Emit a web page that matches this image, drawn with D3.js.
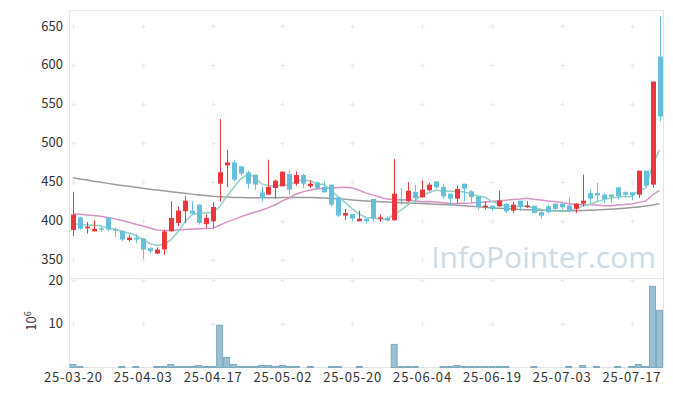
<!DOCTYPE html>
<html>
<head>
<meta charset="utf-8">
<script src="https://cdn.jsdelivr.net/npm/d3@7/dist/d3.min.js"></script>
<style>
  html, body { margin: 0; padding: 0; background: #fff; }
  svg { display: block; font-family: "Noto Sans CJK KR", "Noto Sans", sans-serif; }
</style>
</head>
<body>
<svg id="chart" width="673" height="396"></svg>
<script>
// trading days (yy-mm-dd)
const dates = [
  "25-03-20","25-03-21","25-03-24","25-03-25","25-03-26","25-03-27","25-03-28","25-03-31","25-04-01","25-04-02",
  "25-04-03","25-04-04","25-04-07","25-04-08","25-04-09","25-04-10","25-04-11","25-04-14","25-04-15","25-04-16",
  "25-04-17","25-04-18","25-04-21","25-04-22","25-04-23","25-04-24","25-04-25","25-04-28","25-04-29","25-04-30",
  "25-05-02","25-05-07","25-05-08","25-05-09","25-05-12","25-05-13","25-05-14","25-05-15","25-05-16","25-05-19",
  "25-05-20","25-05-21","25-05-22","25-05-23","25-05-26","25-05-27","25-05-28","25-05-29","25-05-30","25-06-02",
  "25-06-04","25-06-05","25-06-09","25-06-10","25-06-11","25-06-12","25-06-13","25-06-16","25-06-17","25-06-18",
  "25-06-19","25-06-20","25-06-23","25-06-24","25-06-25","25-06-26","25-06-27","25-06-30","25-07-01","25-07-02",
  "25-07-03","25-07-04","25-07-07","25-07-08","25-07-09","25-07-10","25-07-11","25-07-14","25-07-15","25-07-16",
  "25-07-17","25-07-18","25-07-21","25-07-22","25-07-23"
];

const open = [
  388, 404, 390, 386.3, 390, 404, 389, 387, 375, 378,
  377, 364.5, 357.7, 363, 386.3, 397, 412, 412.8, 420.5, 395.7,
  399.2, 447.4, 470.9, 474.8, 469.7, 462, 459, 436.3, 433.3, 441.9,
  444, 459.8, 447.4, 458.5, 444, 449.1, 443.2, 446.2, 430, 406.4,
  408.5, 399.1, 402.5, 427.8, 402.5, 403.4, 400.4, 427.5, 424.8, 436.7,
  429.9, 438.9, 450.4, 443.1, 434.6, 428.2, 447.4, 437.6, 431.2, 417.1,
  419.2, 418.4, 421.3, 412.8, 425.6, 417.1, 419.2, 410.7, 418.4, 421.8,
  421.8, 419.2, 415.4, 421.8, 435.4, 435.4, 433.3, 433.3, 442.7, 436.3,
  436.3, 433.3, 464.1, 446.2, 610.7
];
const high = [
  437, 405, 398, 400.4, 394, 404.5, 391, 387.5, 381.6, 382.5,
  377.5, 366, 365.4, 388.5, 424.8, 418.4, 431.2, 424.8, 420.5, 407.7,
  423.5, 530.3, 491, 478.2, 469.7, 464.5, 459, 444, 478.2, 452.6,
  463, 464.1, 463.2, 459.8, 451.7, 450.4, 450.4, 446.2, 430, 415,
  408.5, 412.8, 402.5, 427.8, 407.7, 405.5, 479, 441.9, 449.5, 446.1,
  451.3, 448.3, 450.4, 447, 434.6, 444.8, 447.4, 438.9, 431.2, 424.8,
  419.2, 438.4, 422.6, 423.9, 425.6, 424.8, 419.2, 413.2, 420.5, 421.8,
  421.8, 429.9, 422.6, 459, 439.7, 448.3, 435.4, 433.3, 442.7, 437.6,
  436.3, 464.1, 464.1, 578.6, 662
];
const low = [
  380, 388, 383.3, 386, 385.5, 386, 379, 373.5, 373, 371,
  351, 358.5, 356.8, 356, 386, 392.7, 397, 407.7, 394.8, 390.6,
  390.6, 424.8, 443.2, 450.4, 458, 441, 439.7, 424.8, 433, 427.8,
  444, 433.3, 444.9, 441.9, 441.9, 439.7, 435.5, 418.4, 404.7, 400.4,
  399.1, 399, 396.1, 399.1, 398.3, 399, 400, 420.5, 424, 422.6,
  429, 437.6, 441, 427.8, 418.4, 421.8, 424.8, 422.6, 414.1, 414.1,
  412, 417.5, 409.8, 409.8, 412.8, 416.2, 409, 402.5, 409, 412,
  414.9, 410.7, 409.8, 418.4, 422.6, 424.8, 422.6, 422.6, 426.9, 429,
  426.1, 429, 444, 442.3, 527.3
];
const close = [
  407.7, 389.7, 392.3, 389.3, 388.5, 388.5, 388, 375.6, 378.2, 375.6,
  362.8, 360.7, 362.8, 386, 403.4, 412.8, 425.6, 409, 397, 403.4,
  417.5, 462, 474.8, 452.6, 460.3, 447.4, 446.2, 429.1, 443.2, 451.3,
  462.8, 439.7, 458.5, 447.4, 447.4, 441.9, 436.3, 420.5, 406.4, 409.8,
  402.6, 402.5, 399.1, 402.5, 404.2, 400, 434.6, 426, 438.4, 429,
  439.7, 446.1, 442.7, 431.2, 428.2, 440.6, 441, 430.3, 418.4, 419.2,
  414.9, 425.6, 411.9, 420.5, 417.5, 419.2, 409.8, 406.4, 410.7, 414.9,
  417.1, 411.9, 421.8, 425.6, 428.2, 432.5, 427.8, 430.3, 431.2, 433.3,
  432.5, 464.1, 444.8, 578.6, 533.7
];
// volume in millions of shares
const volume = [
  0.7, 0.25, 0.05, 0.05, 0.05, 0.05, 0.05, 0.23, 0.05, 0.23,
  0.05, 0.05, 0.23, 0.23, 0.7, 0.23, 0.23, 0.23, 0.46, 0.23,
  0.23, 9.7, 2.3, 0.7, 0.23, 0.23, 0.23, 0.46, 0.46, 0.23,
  0.46, 0.23, 0.23, 0.05, 0.23, 0.05, 0.05, 0.23, 0.23, 0.05,
  0.05, 0.23, 0.05, 0.05, 0.05, 0.05, 5.3, 0.23, 0.23, 0.23,
  0.05, 0.05, 0.05, 0.23, 0.23, 0.46, 0.23, 0.23, 0.23, 0.23,
  0.23, 0.23, 0.23, 0.05, 0.05, 0.05, 0.23, 0.05, 0.05, 0.05,
  0.05, 0.23, 0.05, 0.46, 0.05, 0.23, 0.05, 0.05, 0.23, 0.05,
  0.23, 0.69, 0.23, 18.6, 13.1
];
// moving averages
const ma5 = [
  396, 395, 394.5, 394, 393.5, 389.7, 389.3, 386, 383.8, 381.2,
  376, 370.6, 368, 369.6, 375.1, 385.1, 398.1, 407.4, 409.6, 409.6,
  410.5, 417.8, 430.9, 442.1, 453.4, 459.4, 456.3, 447.1, 445.2, 443.4,
  446.5, 445.2, 451.1, 451.9, 451.2, 447, 446.3, 438.7, 430.5, 423,
  415.1, 408.4, 404.1, 403.3, 402.2, 401.7, 408.1, 413.5, 420.6, 425.6,
  433.5, 435.8, 439.2, 437.7, 437.6, 437.8, 436.7, 434.3, 431.7, 429.9,
  424.8, 421.7, 418, 418.4, 418.1, 418.9, 415.8, 414.7, 412.7, 412.2,
  411.8, 412.2, 415.3, 418.3, 420.9, 424, 427.2, 428.9, 430, 431,
  431, 438.3, 441.2, 470.7, 490.7
];
const ma20 = [
  408.6, 408, 407.3, 406.5, 405.6, 404, 402.2, 400, 397.8, 395.4,
  393, 390.5, 388, 387.2, 387.3, 388, 388.6, 389, 389.4, 389.8,
  390.3, 394, 398.1, 401.2, 404.8, 407.8, 410.7, 413.4, 416.6, 420.4,
  425.4, 429.3, 434.1, 437.2, 439.4, 440.9, 441.4, 442, 442.4, 442.8,
  442, 439, 435.3, 432.7, 429.9, 427.6, 427, 426.8, 426.6, 425.5,
  424.3, 424.6, 423.9, 423, 422.1, 422, 422.3, 422.7, 423.3, 423.8,
  424.4, 425.6, 426.2, 427.1, 427.8, 428.8, 427.5, 426.5, 425.1, 424.4,
  423.3, 421.6, 420.6, 420.3, 420.3, 419.9, 419.2, 419.2, 419.9, 420.6,
  421.4, 423.4, 425, 432.9, 438.7
];
const ma60 = [
  455, 453.5, 452, 450.6, 449.2, 447.8, 446.5, 445.2, 444, 442.8,
  441.6, 440.4, 439.3, 438.2, 437.1, 436, 435, 434, 433, 432.1,
  431.3, 430.7, 430.2, 429.8, 429.6, 429.5, 429.5, 429.5, 429.5, 429.5,
  429.6, 429.7, 429.8, 429.8, 429.7, 429.4, 429, 428.5, 428, 427.3,
  426.5, 425.8, 425.2, 424.7, 424.2, 423.8, 423.4, 423, 422.6, 422.2,
  421.8, 421.4, 421, 420.6, 420.2, 419.8, 419.2, 418.5, 417.8, 417,
  416.3, 415.7, 415.2, 414.8, 414.4, 414, 413.6, 413.3, 413, 412.8,
  412.7, 412.7, 412.8, 413, 413.3, 413.7, 414.1, 414.6, 415.2, 415.9,
  416.7, 417.6, 418.6, 420, 421.8
];

const priceTicks = [350, 400, 450, 500, 550, 600, 650];
const volumeTicks = [10, 20];
const labelDates = ["25-03-20","25-04-03","25-04-17","25-05-02","25-05-20","25-06-04","25-06-19","25-07-03","25-07-17"];

const upColor = "#e9373c";
const downColor = "#67c0d9";

const svg = d3.select("#chart");
const left = 69.5, right = 663;

const x = d3.scaleBand().domain(dates).range([left, right]).padding(0);
const cx = d => x(d) + x.bandwidth() / 2;
const y = d3.scaleLinear().domain([335.9, 670.5]).range([270.5, 10]);
const yv = d3.scaleLinear().domain([0, 20.4]).range([367.5, 278.5]);

const rows = dates.map((d, i) => ({
  date: d, o: open[i], h: high[i], l: low[i], c: close[i], v: volume[i],
  m5: ma5[i], m20: ma20[i], m60: ma60[i]
}));

// frame
const frame = svg.append("g").attr("stroke", "#e4e4e4").attr("fill", "none");
frame.append("line").attr("x1", left).attr("x2", right).attr("y1", 10.5).attr("y2", 10.5);
frame.append("line").attr("x1", left).attr("x2", left).attr("y1", 10).attr("y2", 367.5);
frame.append("line").attr("x1", right + 0.5).attr("x2", right + 0.5).attr("y1", 10).attr("y2", 367.5);
frame.append("line").attr("x1", left).attr("x2", right).attr("y1", yv(20.4)).attr("y2", yv(20.4));
frame.append("line").attr("x1", left).attr("x2", right).attr("y1", 367.5).attr("y2", 367.5);

// grid crosses
const crossYs = priceTicks.map(v => y(v)).concat(volumeTicks.map(v => yv(v)));
const crosses = [];
labelDates.forEach(d => crossYs.forEach(yy => crosses.push([cx(d), yy])));
const cg = svg.append("g").attr("stroke", "#e8e8e8").attr("stroke-width", 1);
cg.selectAll("path").data(crosses).join("path")
  .attr("d", ([a, b]) => `M${Math.round(a) - 2},${Math.round(b) + 0.5}H${Math.round(a) + 3}M${Math.round(a) + 0.5},${Math.round(b) - 2}V${Math.round(b) + 3}`);

// watermark
svg.append("text")
  .attr("x", 656).attr("y", 268)
  .attr("text-anchor", "end")
  .attr("font-family", "'Open Sans', 'Noto Sans', sans-serif")
  .attr("font-size", 30)
  .attr("fill", "#cbdbe6")
  .text("InfoPointer.com");

// moving averages
const line = key => d3.line().x(d => cx(d.date)).y(d => y(d[key]));
[["m60", "#9c9c9c"], ["m20", "#d492c6"], ["m5", "#92d0c6"]].forEach(([k, col]) => {
  svg.append("path").datum(rows)
    .attr("fill", "none").attr("stroke", col).attr("stroke-width", 1.5)
    .attr("d", line(k));
});

// candles
const candles = svg.append("g").selectAll("g").data(rows).join("g")
  .attr("fill", d => d.c >= d.o ? upColor : downColor)
  .attr("stroke", d => d.c >= d.o ? upColor : downColor);
candles.append("line")
  .attr("x1", d => Math.round(cx(d.date)) + 0.5).attr("x2", d => Math.round(cx(d.date)) + 0.5)
  .attr("y1", d => y(d.h)).attr("y2", d => y(d.l));
candles.append("rect")
  .attr("stroke", "none")
  .attr("x", d => Math.round(cx(d.date)) - 2)
  .attr("width", 5)
  .attr("y", d => y(Math.max(d.o, d.c)))
  .attr("height", d => Math.max(1.5, Math.abs(y(d.o) - y(d.c))));

// volume bars
svg.append("g").selectAll("rect").data(rows.filter(d => yv(0) - yv(d.v) >= 0.5)).join("rect")
  .attr("x", d => x(d.date) + 0.5)
  .attr("width", x.bandwidth() - 1)
  .attr("y", d => yv(d.v))
  .attr("height", d => yv(0) - yv(d.v))
  .attr("fill", "#9bc0d1")
  .attr("stroke", "#7eaac0")
  .attr("stroke-width", 1);

// axis labels
const txt = svg.append("g").attr("fill", "#333").attr("font-size", 13);
txt.selectAll(".py").data(priceTicks).join("text")
  .attr("x", 63).attr("y", d => y(d)).attr("dy", "0.35em")
  .attr("text-anchor", "end").text(d => d);
txt.selectAll(".vy").data(volumeTicks).join("text")
  .attr("x", 63).attr("y", d => yv(d)).attr("dy", "0.35em")
  .attr("text-anchor", "end").text(d => d);
txt.selectAll(".xl").data(labelDates).join("text")
  .attr("x", d => cx(d) - 29).attr("y", 382)
  .attr("textLength", 58).attr("lengthAdjust", "spacing")
  .text(d => d);

const unit = txt.append("text")
  .attr("transform", "translate(36,321) rotate(-90)")
  .attr("text-anchor", "middle");
unit.append("tspan").text("10");
unit.append("tspan").attr("dy", -5).attr("font-size", 9).text("6");
</script>
</body>
</html>
